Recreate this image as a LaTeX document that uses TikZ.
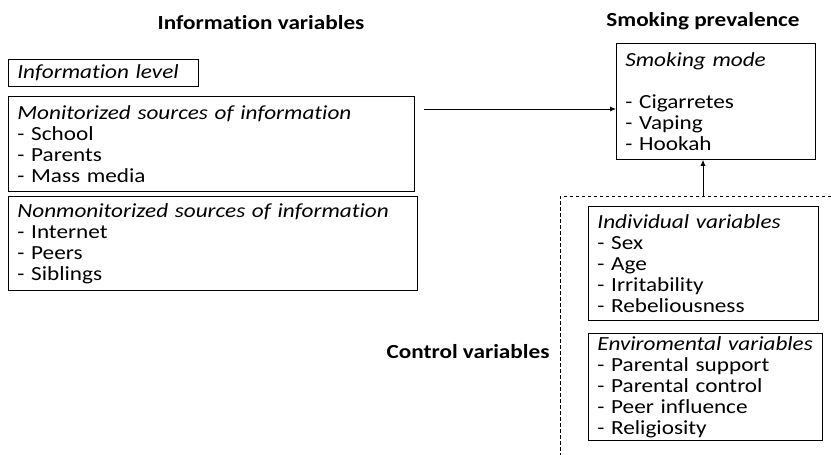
\documentclass[tikz,border=0pt]{standalone}
\usepackage{fontspec}
\setmainfont[FakeStretch=1.16,Ligatures=NoCommon]{Carlito}
\usetikzlibrary{arrows.meta}
\begin{document}
\begin{tikzpicture}[x=1pt,y=-1pt,
  every node/.style={font=\fontsize{20}{21}\selectfont},
  heading/.style={font=\fontsize{20}{21}\selectfont\bfseries},
  varbox/.style={draw, line width=0.8pt, anchor=north west, align=left, inner xsep=9pt, inner ysep=0pt},
  link/.style={line width=0.8pt, -{Latex[length=6pt,width=5pt]}},
  ctrl/.style={line width=0.7pt, dash pattern=on 3.5pt off 2.5pt}]
\useasboundingbox (0,0) rectangle (831,455);
\node[heading] (hinfo) at (261,23) {Information variables};
\node[heading] (hsmoke) at (703,21) {Smoking prevalence};
\node[heading] (hctrl) at (468,352) {Control variables};

\node[varbox, minimum width=190pt, minimum height=27pt, text width=172pt] (level) at (8,59) {\textit{Information level}};
\node[varbox, minimum width=406pt, minimum height=95pt, text width=388pt] (mon) at (8,96)
  {\textit{Monitorized sources of information}\\- School\\- Parents\\- Mass media};
\node[varbox, minimum width=409pt, minimum height=94pt, text width=391pt] (nonmon) at (8,196)
  {\textit{Nonmonitorized sources of information}\\- Internet\\- Peers\\- Siblings};
\node[varbox, minimum width=199pt, minimum height=116pt, text width=181pt] (mode) at (616,43)
  {\textit{Smoking mode}\\[21pt]- Cigarretes\\- Vaping\\- Hookah};
\node[varbox, minimum width=230pt, minimum height=114pt, text width=212pt] (indiv) at (588,206)
  {\textit{Individual variables}\\- Sex\\- Age\\- Irritability\\- Rebeliousness};
\node[varbox, minimum width=234pt, minimum height=107pt, text width=216pt] (env) at (588,333)
  {\textit{Enviromental variables}\\- Parental support\\- Parental control\\- Peer influence\\- Religiosity};

\coordinate (src) at (424,109);
\coordinate (ctop) at (703,196);
\coordinate (cright) at (831,196);
\coordinate (cleft) at (560,196);
\coordinate (cbot) at (560,455);
\draw[link] (src) -- (src -| mode.west);
\draw[link] (ctop) -- (ctop |- mode.south);
\draw[ctrl] (cright) -- (cleft) -- (cbot);
\end{tikzpicture}
\end{document}
